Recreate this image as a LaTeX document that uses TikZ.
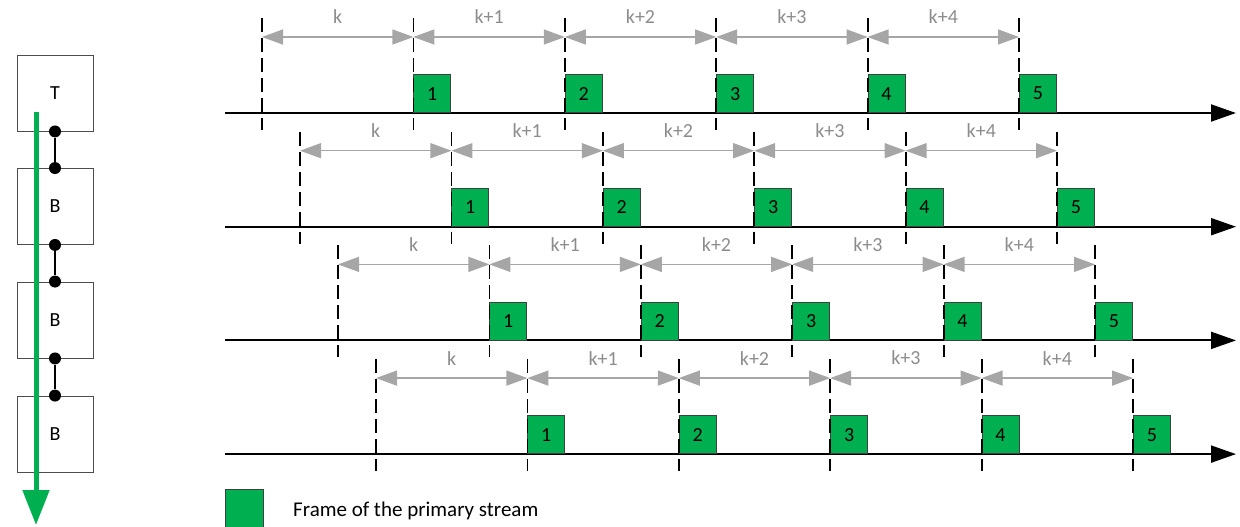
\documentclass[tikz,border=0pt]{standalone}
\usepackage{fontspec}
\setmainfont{Carlito}
\usetikzlibrary{arrows.meta,calc}
\definecolor{fgreen}{HTML}{00B050}
\definecolor{lgray}{HTML}{A6A6A6}
\definecolor{tgray}{HTML}{8C8C8C}
\begin{document}
\begin{tikzpicture}[x=1pt,y=-1pt,
  axis/.style={line width=2pt,-{Triangle[length=25pt,width=17pt]}},
  tick/.style={line width=1.8pt,dash pattern=on 14pt off 6pt},
  dim/.style={lgray,line width=1.4pt,{Triangle[length=21pt,width=15pt]}-{Triangle[length=21pt,width=15pt]}},
  dimlabel/.style={text=tgray,font=\fontsize{20}{24}\selectfont,inner sep=0pt},
  frame/.style={draw=black!75,line width=0.8pt,fill=fgreen,minimum width=37pt,minimum height=38pt,inner sep=0pt,font=\fontsize{20}{24}\selectfont},
  blk/.style={draw=black!70,line width=0.9pt,minimum width=76pt,minimum height=76pt,inner sep=0pt,font=\fontsize{20}{24}\selectfont},
  dot/.style={circle,fill=black,minimum size=12pt,inner sep=0pt},
  link/.style={line width=2pt},
  flow/.style={fgreen,line width=5pt,-{Triangle[length=35pt,width=26pt]}}]
\useasboundingbox (0,0) rectangle (1240,527);
% timelines
\foreach \r in {0,1,2,3}{
  \pgfmathsetmacro{\y}{113+\r*113.7}
  \pgfmathsetmacro{\xo}{262+\r*38}
  \coordinate (s\r) at (225,\y);
  \coordinate (e\r) at (1236,\y);
  \draw[axis] (s\r) -- (e\r);
  \foreach \i in {1,...,5}{
    \pgfmathsetmacro{\x}{\xo+\i*151.4}
    \node[frame,anchor=south west] (f\r-\i) at (\x,\y) {\i};
  }
  \foreach \i in {0,...,5}{
    \pgfmathsetmacro{\x}{\xo+\i*151.4}
    \coordinate (t\r-\i) at (\x,\y-95);
    \coordinate (b\r-\i) at (\x,\y+17);
    \coordinate (m\r-\i) at (\x,\y-76);
    \draw[tick] (t\r-\i) -- (b\r-\i);
  }
  \foreach \i [evaluate=\i as \j using int(\i+1)] in {0,...,4}{
    \draw[dim] (m\r-\i) -- (m\r-\j);
    \ifnum\i=0
      \node[dimlabel] (l\r-\i) at ($(m\r-\i)!0.5!(m\r-\j)+(0,-20)$) {k};
    \else
      \node[dimlabel] (l\r-\i) at ($(m\r-\i)!0.5!(m\r-\j)+(0,-20)$) {k+\i};
    \fi
  }
}
% left blocks
\node[blk] (T) at (55,93) {T};
\node[blk] (B1) at (55,206.5) {B};
\node[blk] (B2) at (55,320) {B};
\node[blk] (B3) at (55,434) {B};
\coordinate (gs) at (36,112);
\coordinate (ge) at (36,525);
\draw[flow] (gs) -- (ge);
\node[dot] (d1) at (T.south) {};
\node[dot] (d2) at (B1.north) {};
\node[dot] (d3) at (B1.south) {};
\node[dot] (d4) at (B2.north) {};
\node[dot] (d5) at (B2.south) {};
\node[dot] (d6) at (B3.north) {};
\draw[link] (d1) -- (d2);
\draw[link] (d3) -- (d4);
\draw[link] (d5) -- (d6);
% legend
\node[frame,anchor=north west,minimum width=38pt] (leg) at (225,489) {};
\node[anchor=west,inner sep=0pt,font=\fontsize{21}{25}\selectfont] (legt) at (293,511) {Frame of the primary stream};
\end{tikzpicture}
\end{document}
